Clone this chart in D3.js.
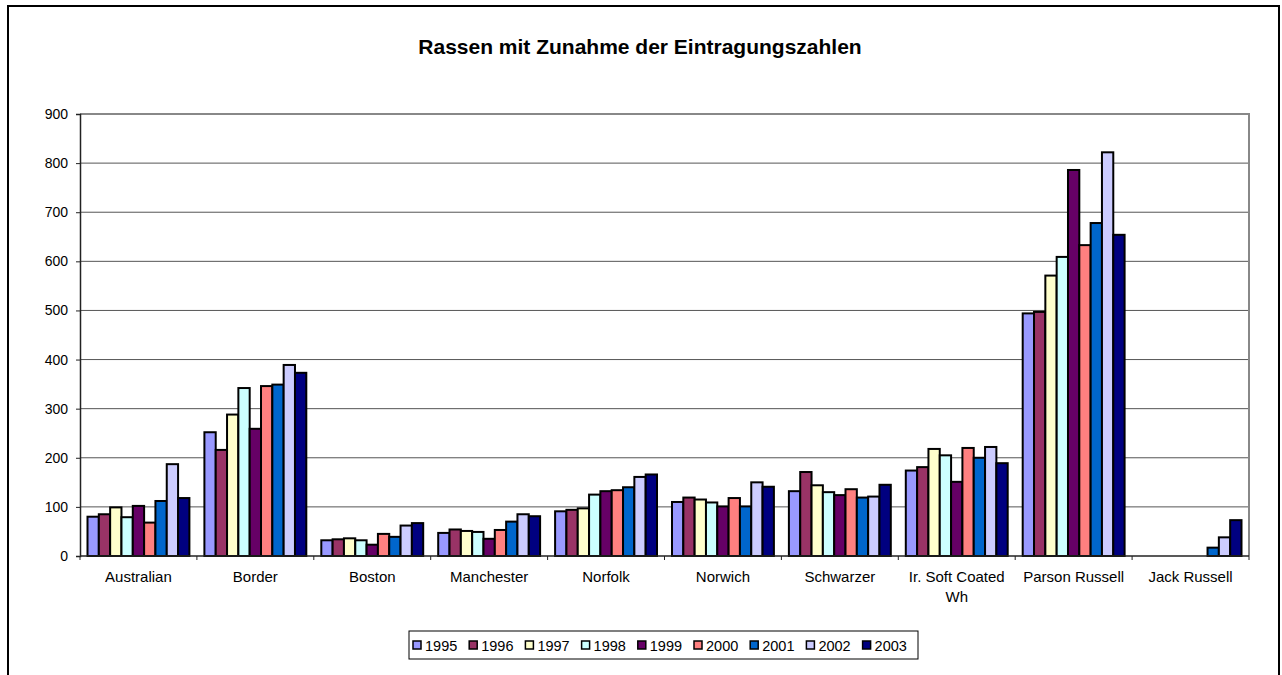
<!DOCTYPE html>
<html>
<head>
<meta charset="utf-8">
<script src="https://cdn.jsdelivr.net/npm/d3@7"></script>
<style>
    body { margin: 0; background: #fff; }
    svg text { font-family: "Liberation Sans", Arial, sans-serif; fill: #000; }
</style>
</head>
<body>
<div id="chart"></div>
<script>
var categories = ["Australian", "Border", "Boston", "Manchester", "Norfolk", "Norwich", "Schwarzer", "Ir. Soft Coated Wh", "Parson Russell", "Jack Russell"];
var years = ["1995", "1996", "1997", "1998", "1999", "2000", "2001", "2002", "2003"];
var y_ticks = [0, 100, 200, 300, 400, 500, 600, 700, 800, 900];

// one array per year, in category order
var v1995 = [80, 252, 32, 47, 91, 110, 132, 174, 494, 0];
var v1996 = [85, 216, 34, 54, 94, 119, 171, 181, 497, 0];
var v1997 = [99, 288, 36, 51, 97, 115, 144, 218, 571, 0];
var v1998 = [79, 342, 32, 49, 125, 109, 130, 205, 609, 0];
var v1999 = [102, 259, 23, 35, 132, 101, 124, 151, 786, 0];
var v2000 = [68, 346, 45, 53, 134, 118, 136, 220, 633, 0];
var v2001 = [112, 349, 39, 70, 140, 101, 119, 200, 678, 17];
var v2002 = [187, 389, 62, 85, 161, 150, 121, 222, 822, 38];
var v2003 = [118, 373, 67, 81, 166, 141, 145, 189, 654, 73];
var series = [v1995, v1996, v1997, v1998, v1999, v2000, v2001, v2002, v2003];

var colors = ["#9999FF", "#993366", "#FFFFCC", "#CCFFFF", "#660066", "#FF8080", "#0066CC", "#CCCCFF", "#000080"];

var W = 1282, H = 675;
var plot = {left: 80, top: 114, right: 1249, bottom: 556};

var svg = d3.select("#chart")
    .append("svg")
    .attr("width", W)
    .attr("height", H);

// outer chart frame
svg.append("rect")
    .attr("x", 8).attr("y", 6)
    .attr("width", 1271).attr("height", 700)
    .attr("fill", "#fff")
    .attr("stroke", "#000")
    .attr("stroke-width", 2);

svg.append("text")
    .attr("x", 640)
    .attr("y", 54)
    .style("text-anchor", "middle")
    .style("font-size", "21px")
    .style("font-weight", "bold")
    .text("Rassen mit Zunahme der Eintragungszahlen");

var x = d3.scaleBand().domain(categories).range([plot.left, plot.right]).padding(0);
var xi = d3.scaleBand().domain(years).range([7.5, x.bandwidth() - 7.5]).padding(0);
var y = d3.scaleLinear().domain([0, 900]).range([plot.bottom, plot.top]);

// Plotting region------------------------------
var vis = svg.append("g");

vis.selectAll("line.grid")
    .data(y_ticks.filter(function (d) { return d > 0 && d < 900; }))
    .enter().append("line")
    .attr("class", "grid")
    .attr("x1", plot.left).attr("x2", plot.right)
    .attr("y1", function (d) { return y(d); })
    .attr("y2", function (d) { return y(d); })
    .style("stroke", "#555")
    .style("stroke-width", 1);

// plot area border (top/right in grey)
vis.append("path")
    .attr("d", "M" + plot.left + "," + y(900) + "H" + plot.right + "V" + plot.bottom)
    .attr("fill", "none")
    .style("stroke", "#888")
    .style("stroke-width", 2);

// bars
var groups = vis.selectAll("g.year")
    .data(series)
    .enter().append("g")
    .attr("class", "year")
    .attr("fill", function (d, i) { return colors[i]; });

groups.each(function (vals, i) {
    d3.select(this).selectAll("rect")
        .data(vals)
        .enter().append("rect")
        .filter(function (d) { return d > 0; })
        .attr("x", function (d, j) { return x(categories[j]) + xi(years[i]); })
        .attr("width", xi.bandwidth())
        .attr("y", function (d) { return y(d); })
        .attr("height", function (d) { return y(0) - y(d); })
        .style("stroke", "#000")
        .style("stroke-width", 2);
});

// axes
var yaxis = d3.axisLeft(y).tickValues(y_ticks).tickSize(4).tickPadding(8).tickFormat(d3.format("d"));
var ya = vis.append("g")
    .attr("transform", "translate(" + plot.left + ",0)")
    .call(yaxis);
ya.select(".domain").style("stroke", "#222").style("stroke-width", 1.5);
ya.selectAll(".tick line").style("stroke", "#222");
ya.selectAll(".tick text").style("font-size", "14px").attr("font-family", null);

var xa = vis.append("g")
    .attr("transform", "translate(0," + plot.bottom + ")");
xa.append("line")
    .attr("x1", plot.left).attr("x2", plot.right)
    .style("stroke", "#222").style("stroke-width", 1.5);
xa.selectAll("line.tk")
    .data(categories.concat(["end"]))
    .enter().append("line")
    .attr("class", "tk")
    .attr("x1", function (d, i) { return plot.left + i * x.bandwidth(); })
    .attr("x2", function (d, i) { return plot.left + i * x.bandwidth(); })
    .attr("y1", 0).attr("y2", 4)
    .style("stroke", "#222");

xa.selectAll("text.cat")
    .data(categories)
    .enter().append("text")
    .attr("class", "cat")
    .attr("x", function (d) { return x(d) + x.bandwidth() / 2; })
    .attr("y", 26)
    .style("text-anchor", "middle")
    .style("font-size", "15px")
    .text(function (d) { return d; })
    .call(wrap, x.bandwidth() - 4);

function wrap(sel, width) {
    sel.each(function () {
        var t = d3.select(this);
        var words = t.text().split(" ");
        var cx = t.attr("x");
        t.text(null);
        var line = [];
        var ts = t.append("tspan").attr("x", cx);
        words.forEach(function (w) {
            line.push(w);
            ts.text(line.join(" "));
            if (ts.node().getComputedTextLength() > width && line.length > 1) {
                line.pop();
                ts.text(line.join(" "));
                line = [w];
                ts = t.append("tspan").attr("x", cx).attr("dy", 20).text(w);
            }
        });
    });
}
// End Plotting region------------------------------

// legend
var legend = svg.append("g");
legend.append("rect")
    .attr("x", 409).attr("y", 631)
    .attr("width", 509).attr("height", 28)
    .attr("fill", "#fff")
    .style("stroke", "#000")
    .style("stroke-width", 1);

var items = legend.selectAll("g.item")
    .data(years)
    .enter().append("g")
    .attr("class", "item")
    .attr("transform", function (d, i) { return "translate(" + (413 + i * 56.2) + ",641)"; });
items.append("rect")
    .attr("width", 8).attr("height", 8)
    .attr("fill", function (d, i) { return colors[i]; })
    .style("stroke", "#000")
    .style("stroke-width", 1.5);
items.append("text")
    .attr("x", 12)
    .attr("y", 9.5)
    .style("font-size", "14.5px")
    .text(function (d) { return d; });
</script>
</body>
</html>
